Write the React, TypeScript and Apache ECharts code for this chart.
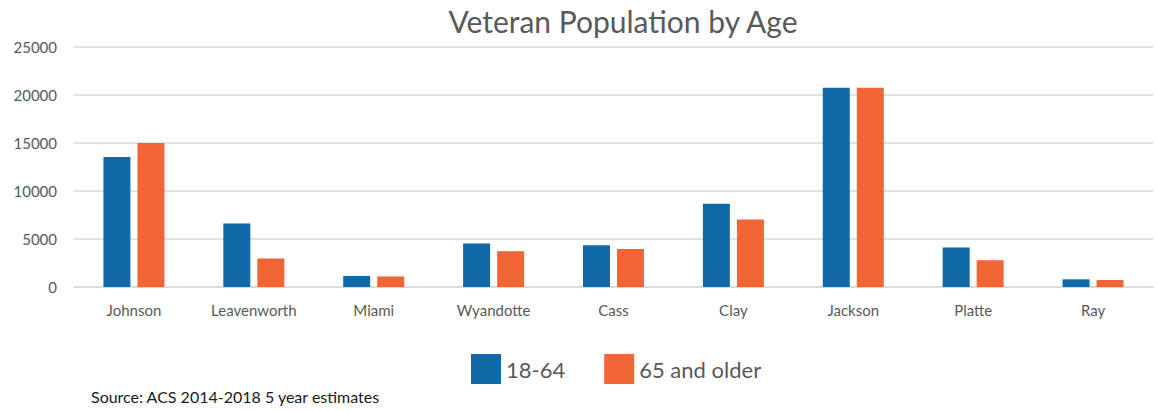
import React, { useEffect, useRef } from "react";
import * as echarts from "echarts";

const categories = ["Johnson", "Leavenworth", "Miami", "Wyandotte", "Cass", "Clay", "Jackson", "Platte", "Ray"];
const age18to64 = [13550, 6620, 1150, 4530, 4350, 8670, 20750, 4110, 800];
const age65plus = [15000, 2970, 1100, 3730, 3970, 7040, 20750, 2790, 730];
const seriesNames = ["18-64", "65 and older"];
const titleText = "Veteran Population by Age";
const sourceText = "Source: ACS 2014-2018 5 year estimates";

const FONT = "Lato, 'Open Sans', sans-serif";

export default function App() {
  const ref = useRef<HTMLDivElement>(null);
  useEffect(() => {
    document.body.style.margin = "0";
    const chart = echarts.init(ref.current!, null, { renderer: "svg" });
    chart.setOption({
      animation: false,
      backgroundColor: "#ffffff",
      textStyle: { fontFamily: FONT },
      title: {
        text: titleText,
        left: 618,
        textAlign: "center",
        top: 1,
        textStyle: { fontSize: 30, fontWeight: "normal", color: "#595959", fontFamily: FONT },
      },
      legend: {
        data: seriesNames,
        left: 471,
        top: 354,
        padding: 0,
        itemWidth: 30,
        itemHeight: 30,
        itemGap: 39,
        icon: "rect",
        textStyle: { fontSize: 22, color: "#595959", fontFamily: FONT },
      },
      grid: { left: 74, right: 4, top: 47, bottom: 124, containLabel: false },
      xAxis: {
        type: "category",
        data: categories,
        axisLine: { lineStyle: { color: "#d9d9d9", width: 1.5 } },
        axisTick: { show: false },
        axisLabel: { fontSize: 15, color: "#595959", margin: 15, fontFamily: FONT },
      },
      yAxis: {
        type: "value",
        min: 0,
        max: 25000,
        interval: 5000,
        axisLine: { show: false },
        axisTick: { show: false },
        axisLabel: {
          fontSize: 15,
          color: "#595959",
          margin: 17,
          fontFamily: FONT,
          formatter: (v: number) => String(v),
        },
        splitLine: { lineStyle: { color: "#d9d9d9", width: 1.5 } },
      },
      series: [
        {
          name: seriesNames[0],
          type: "bar",
          data: age18to64,
          barWidth: 27,
          barGap: "26%",
          itemStyle: { color: "#1169a7" },
        },
        {
          name: seriesNames[1],
          type: "bar",
          data: age65plus,
          barWidth: 27,
          barGap: "26%",
          itemStyle: { color: "#f26536" },
        },
      ],
      graphic: [
        {
          type: "text",
          left: 91,
          top: 388,
          style: { text: sourceText, fontSize: 16, fill: "#1a1a1a", fontFamily: FONT },
        },
      ],
    });
    return () => chart.dispose();
  }, []);
  return <div ref={ref} style={{ width: 1157, height: 411 }} />;
}
